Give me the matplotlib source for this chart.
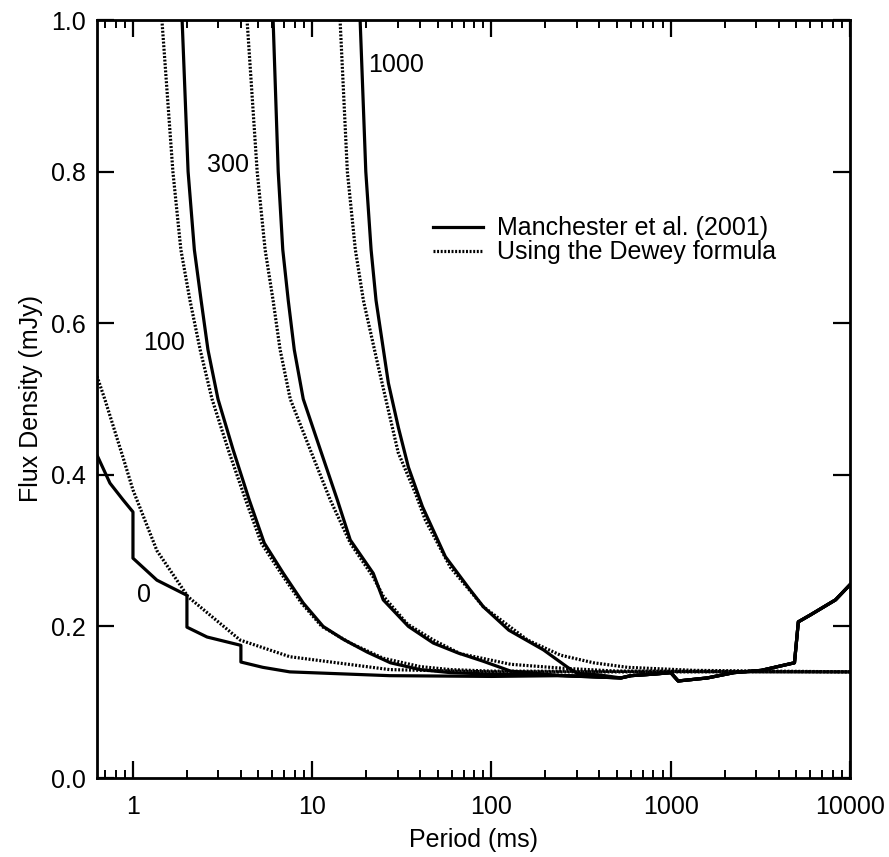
import numpy as np
import matplotlib.pyplot as plt
from matplotlib.ticker import FixedLocator, LogLocator, NullFormatter

# Sensitivity curves: flux density limit (mJy) vs period (ms) for several DMs
# solid = Manchester et al. (2001), dotted = Dewey formula

# DM 0
man0_p = [0.63, 0.744, 0.88, 1.0, 1.0, 1.36, 2.0, 2.0, 2.59, 4.0, 4.0, 5.3, 7.5, 27, 100, 250, 527]
man0_s = [0.426, 0.389, 0.367, 0.351, 0.29, 0.261, 0.241, 0.199, 0.186, 0.175, 0.153, 0.146, 0.14, 0.135, 0.134, 0.135, 0.132]
dew0_p = [0.63, 0.698, 0.88, 1.0, 1.36, 2.03, 3.96, 7.5, 27, 100, 10000]
dew0_s = [0.53, 0.499, 0.423, 0.38, 0.30, 0.239, 0.182, 0.16, 0.143, 0.14, 0.14]

# DM 100
man100_p = [1.88, 2.03, 2.20, 2.40, 2.62, 2.98, 3.62, 4.45, 5.40, 6.9, 8.9, 11.5, 14.9, 20.3, 27.3, 40, 59, 100, 200, 350, 527]
man100_s = [1.0, 0.8, 0.697, 0.63, 0.565, 0.5, 0.433, 0.367, 0.31, 0.27, 0.231, 0.2, 0.183, 0.166, 0.152, 0.143, 0.139, 0.137, 0.136, 0.134, 0.132]
dew100_p = [1.45, 1.67, 1.85, 2.08, 2.37, 2.76, 3.40, 4.25, 5.2, 6.7, 8.7, 11.3, 16.3, 24.9, 40, 59, 100, 10000]
dew100_s = [1.0, 0.8, 0.697, 0.63, 0.565, 0.5, 0.433, 0.367, 0.31, 0.27, 0.231, 0.2, 0.178, 0.158, 0.147, 0.143, 0.141, 0.14]

# DM 300
man300_p = [6.05, 6.46, 6.85, 7.35, 7.94, 8.91, 11.1, 13.8, 16.3, 21.9, 24.9, 34.4, 47.4, 65, 90, 128, 243, 527]
man300_s = [1.0, 0.8, 0.697, 0.63, 0.565, 0.5, 0.433, 0.367, 0.314, 0.27, 0.235, 0.2, 0.178, 0.165, 0.154, 0.141, 0.135, 0.132]
dew300_p = [4.33, 4.93, 5.46, 6.05, 6.62, 7.54, 9.75, 12.6, 16.3, 21.9, 24.9, 34, 47.4, 67, 128, 243, 500, 10000]
dew300_s = [1.0, 0.8, 0.697, 0.63, 0.565, 0.5, 0.433, 0.367, 0.31, 0.265, 0.24, 0.203, 0.182, 0.164, 0.150, 0.145, 0.141, 0.14]

# DM 1000
man1000_p = [18.5, 19.9, 21.3, 22.7, 26.6, 30.2, 34.4, 41.2, 55.3, 75, 90, 125, 195, 266, 300, 400, 527]
man1000_s = [1.0, 0.8, 0.697, 0.63, 0.521, 0.463, 0.41, 0.358, 0.292, 0.25, 0.226, 0.195, 0.169, 0.146, 0.138, 0.136, 0.132]
dew1000_p = [14.3, 15.7, 17.4, 19.3, 23.4, 26.6, 30.2, 37.6, 42.8, 59, 90, 159, 243, 371, 575, 1343, 10000]
dew1000_s = [1.0, 0.8, 0.697, 0.63, 0.542, 0.485, 0.429, 0.376, 0.34, 0.278, 0.226, 0.182, 0.162, 0.152, 0.146, 0.142, 0.14]

# long period part shared by all the Manchester curves
tail_p = [600, 800, 1000, 1100, 1600, 2250, 3200, 4900, 5150, 6000, 8300, 10000]
tail_s = [0.135, 0.137, 0.139, 0.128, 0.132, 0.139, 0.142, 0.152, 0.206, 0.215, 0.235, 0.255]

dm_labels = ['0', '100', '300', '1000']
label_p = [1.15, 1.49, 3.39, 29.5]
label_s = [0.241, 0.574, 0.809, 0.94]

plt.rcParams['font.family'] = ['Liberation Sans', 'DejaVu Sans']
plt.rcParams['font.size'] = 18
plt.rcParams['lines.scale_dashes'] = False

fig = plt.figure(figsize=(8.89, 8.57), dpi=100)
ax = fig.add_axes([97 / 889, 1 - 778 / 857, 753 / 889, 758 / 857])

dotted = (0, (1.4, 1.2))
man_curves = [(man0_p, man0_s), (man100_p, man100_s), (man300_p, man300_s), (man1000_p, man1000_s)]
dew_curves = [(dew0_p, dew0_s), (dew100_p, dew100_s), (dew300_p, dew300_s), (dew1000_p, dew1000_s)]

for i, (p, s) in enumerate(man_curves):
    ax.plot(list(p) + tail_p, list(s) + tail_s, color='black', lw=2.3,
            label='Manchester et al. (2001)' if i == 0 else None)
for i, (p, s) in enumerate(dew_curves):
    ax.plot(p, s, color='black', lw=2.3, linestyle=dotted,
            label='Using the Dewey formula' if i == 0 else None)

# DM labels next to the curves
for lab, p, s in zip(dm_labels, label_p, label_s):
    ax.text(p, s, lab, ha='center', va='center', fontsize=18)

ax.set_xscale('log')
ax.set_xlim(0.63, 10000)
ax.set_ylim(0, 1.0)

ax.xaxis.set_major_locator(FixedLocator([1, 10, 100, 1000, 10000]))
ax.set_xticklabels(['1', '10', '100', '1000', '10000'])
ax.xaxis.set_minor_locator(LogLocator(base=10, subs=np.arange(2, 10)))
ax.xaxis.set_minor_formatter(NullFormatter())
ax.set_yticks([0.0, 0.2, 0.4, 0.6, 0.8, 1.0])
ax.set_yticklabels(['0.0', '0.2', '0.4', '0.6', '0.8', '1.0'])

ax.tick_params(axis='both', which='both', direction='in', top=True, right=True, color='black')
ax.tick_params(axis='both', which='major', length=12, width=1.6)
ax.tick_params(axis='x', which='minor', length=6, width=1.4)
ax.tick_params(axis='x', which='major', pad=12)
ax.tick_params(axis='y', which='major', pad=8)
for sp in ax.spines.values():
    sp.set_linewidth(2.0)

ax.set_xlabel('Period (ms)', labelpad=7)
ax.set_ylabel('Flux Density (mJy)', labelpad=6)

ax.legend(loc='upper left', bbox_to_anchor=(0.446, 0.741), frameon=False,
          borderpad=0, borderaxespad=0, handlelength=2.0, handletextpad=0.55,
          labelspacing=0.0, fontsize=18)

plt.savefig('out.png', dpi=100)
